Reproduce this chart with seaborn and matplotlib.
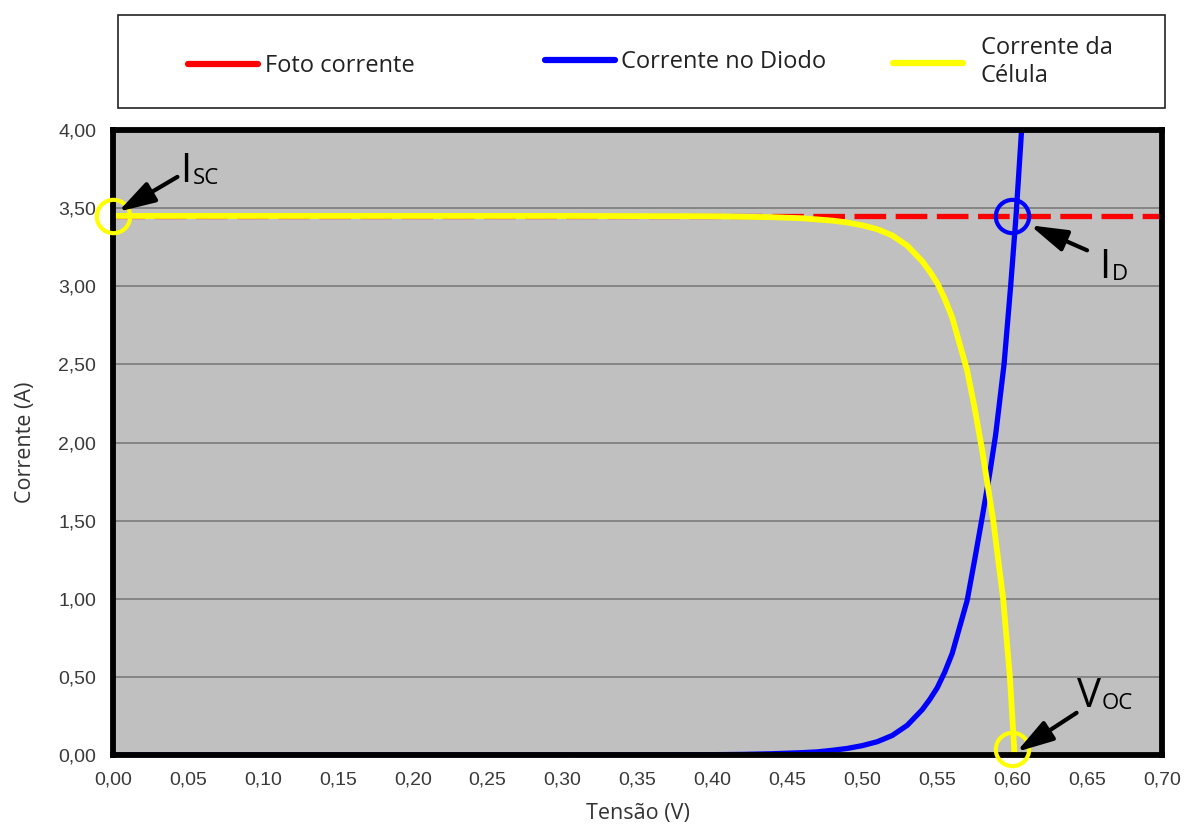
import matplotlib
matplotlib.use("Agg")
import matplotlib.pyplot as plt
import seaborn as sns
import pandas as pd
from matplotlib.lines import Line2D
from matplotlib.patches import Rectangle
from matplotlib.ticker import FuncFormatter, MultipleLocator

# ---- data ----
v_photo = [0.00, 0.70]
i_photo = [3.45, 3.45]

v_diode = [0.00, 0.10, 0.20, 0.30, 0.40, 0.42, 0.44, 0.46, 0.47, 0.48, 0.49,
           0.50, 0.51, 0.52, 0.53, 0.54, 0.545, 0.55, 0.555, 0.56, 0.565,
           0.57, 0.575, 0.58, 0.585, 0.589, 0.5946, 0.599, 0.6026, 0.6063]
i_diode = [0.00, 0.00, 0.00, 0.00, 0.002, 0.004, 0.008, 0.015, 0.02, 0.03, 0.042,
           0.06, 0.085, 0.125, 0.19, 0.29, 0.355, 0.43, 0.53, 0.65, 0.82,
           0.99, 1.25, 1.52, 1.80, 2.05, 2.50, 3.00, 3.45, 4.00]

v_cell = [0.00, 0.10, 0.20, 0.30, 0.40, 0.44, 0.46, 0.48, 0.49, 0.50, 0.51,
          0.52, 0.53, 0.54, 0.545, 0.55, 0.555, 0.56, 0.565, 0.57, 0.575,
          0.58, 0.5874, 0.594, 0.5985, 0.6015]
i_cell = [3.45, 3.45, 3.45, 3.45, 3.448, 3.442, 3.435, 3.42, 3.408, 3.39, 3.365,
          3.325, 3.26, 3.16, 3.095, 3.02, 2.92, 2.80, 2.63, 2.46, 2.22,
          1.95, 1.50, 1.00, 0.50, 0.02]

labels = ["Foto corrente", "Corrente no Diodo", "Corrente da\nCélula"]
colors = ["#FF0000", "#0000FF", "#FFFF00"]

# marked points
isc_pt = (0.000, 3.45)
id_pt = (0.600, 3.45)
voc_pt = (0.600, 0.04)

df_photo = pd.DataFrame({"V": v_photo, "I": i_photo})
df_diode = pd.DataFrame({"V": v_diode, "I": i_diode})
df_cell = pd.DataFrame({"V": v_cell, "I": i_cell})

sns.set_style("white")
plt.rcParams["font.family"] = ["Open Sans", "DejaVu Sans"]

W, H = 1189, 836
fig = plt.figure(figsize=(W / 100, H / 100), dpi=100)
ax = fig.add_axes([113 / W, 81 / H, 1049 / W, 625 / H])
ax.set_facecolor("#C0C0C0")

lw = 3.8
sns.lineplot(data=df_photo, x="V", y="I", ax=ax, color=colors[0], linewidth=lw,
             linestyle=(0, (6, 1.8)), estimator=None, zorder=3)
sns.lineplot(data=df_diode, x="V", y="I", ax=ax, color=colors[1], linewidth=lw,
             estimator=None, zorder=4)
sns.lineplot(data=df_cell, x="V", y="I", ax=ax, color=colors[2], linewidth=lw + 0.4,
             estimator=None, zorder=5)

# circles
for pt, c in [(isc_pt, "#FFFF00"), (id_pt, "#0000FF"), (voc_pt, "#FFFF00")]:
    ax.plot([pt[0]], [pt[1]], marker="o", ms=24, mfc="none", mec=c,
            mew=3, zorder=7, clip_on=False, ls="none")

arrow_kw = dict(arrowstyle="-|>,head_length=0.8,head_width=0.24", color="black",
                lw=3, mutation_scale=28, shrinkA=0, shrinkB=0)
ax.annotate("", xy=(0.0035, 3.477), xytext=(0.043, 3.70), arrowprops=arrow_kw,
            zorder=8, annotation_clip=False)
ax.annotate("", xy=(0.612, 3.39), xytext=(0.650, 3.23), arrowprops=arrow_kw,
            zorder=8)
ax.annotate("", xy=(0.603, 0.02), xytext=(0.643, 0.27), arrowprops=arrow_kw,
            zorder=8, annotation_clip=False)


def sub_label(x, y, main, sub):
    t = ax.text(x, y, main, ha="left", va="center", fontsize=29, color="black",
                zorder=9)
    ax.annotate(sub, xy=(1.0, 0.08), xycoords=t, ha="left", va="bottom",
                fontsize=16, color="black", zorder=9,
                xytext=(1, 0), textcoords="offset points")


sub_label(0.045, 3.73, "I", "SC")
sub_label(0.658, 3.12, "I", "D")
sub_label(0.643, 0.37, "V", "OC")

# axes styling
ax.set_xlim(0, 0.70)
ax.set_ylim(0, 4.0)
ax.xaxis.set_major_locator(MultipleLocator(0.05))
ax.yaxis.set_major_locator(MultipleLocator(0.5))
fmt = FuncFormatter(lambda v, p: f"{v:.2f}".replace(".", ","))
ax.xaxis.set_major_formatter(fmt)
ax.yaxis.set_major_formatter(fmt)
ax.grid(axis="y", color="#808080", linewidth=1.3, zorder=1)
ax.grid(axis="x", visible=False)
ax.set_axisbelow(True)
for s in ax.spines.values():
    s.set_visible(True)
    s.set_color("black")
    s.set_linewidth(4.2)
    s.set_zorder(6)
ax.tick_params(axis="both", direction="out", length=7, width=3.5, color="black",
               labelsize=14, labelcolor="#3a3a3a", pad=5)
for lab in ax.get_xticklabels() + ax.get_yticklabels():
    lab.set_family(["Liberation Sans", "DejaVu Sans"])

ax.set_xlabel("Tensão (V)", fontsize=15.5, color="#333333", labelpad=10)
ax.set_ylabel("Corrente (A)", fontsize=15.5, color="#333333", labelpad=16)

# legend: framed box with three entries at their own positions
fig.patches.append(Rectangle((118 / W, (H - 108) / H), 1047 / W, 93 / H,
                             transform=fig.transFigure, facecolor="white",
                             edgecolor="#222222", linewidth=1.2, zorder=0))
leg_fs = 17
fs_px = leg_fs * 100 / 72
entries = [(188, 66, 7), (545, 62, 6), (893, 62, 18)]
for (hx, hy, gap), c, lab in zip(entries, colors, labels):
    lg = fig.legend([Line2D([], [], color=c, linewidth=4.5)], [lab],
                    loc="center left", bbox_to_anchor=(hx / W, (H - hy) / H),
                    frameon=False, fontsize=leg_fs, handlelength=70 / fs_px,
                    handletextpad=gap / fs_px, borderpad=0, borderaxespad=0)
    for t in lg.get_texts():
        t.set_color("#222222")

fig.savefig("out.png", dpi=100, facecolor="white")
